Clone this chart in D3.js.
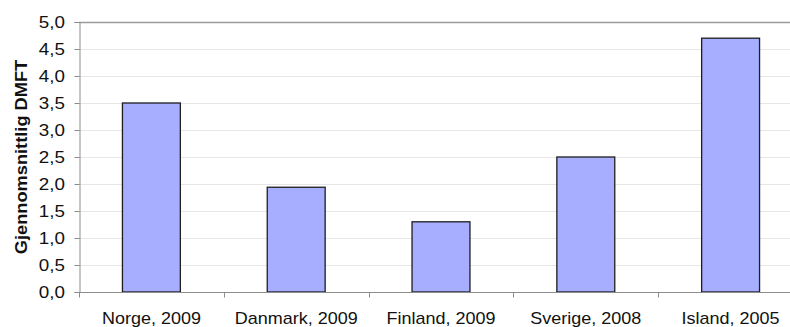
<!DOCTYPE html>
<html>
<head>
<meta charset="utf-8">
<script src="https://cdn.jsdelivr.net/npm/d3@7"></script>
<style>
  html, body { margin: 0; padding: 0; background: #fff; overflow: hidden; }
  svg { display: block; font-family: "Liberation Sans", Arial, sans-serif; }
</style>
</head>
<body>
<svg id="chart" width="790" height="327"></svg>
<script>
// Average DMFT per country and survey year
const categories = ["Norge, 2009", "Danmark, 2009", "Finland, 2009", "Sverige, 2008", "Island, 2005"];
const values = [3.5, 1.94, 1.3, 2.5, 4.7];
const yTicks = [0, 0.5, 1, 1.5, 2, 2.5, 3, 3.5, 4, 4.5, 5];
const yTitle = "Gjennomsnittlig DMFT";

const svg = d3.select("#chart");
const margin = { left: 79, top: 22, right: -13, bottom: 35 };
const W = 790, H = 327;
const x0 = margin.left, x1 = W - margin.right;
const y0 = H - margin.bottom, y1 = margin.top;
const stretch = 1.14; // wide-set lettering

const x = d3.scaleBand().domain(categories).range([x0, x1]).paddingInner(0).paddingOuter(0);
const y = d3.scaleLinear().domain([0, 5]).range([y0, y1]);

const fmt = d => d3.format(".1f")(d).replace(".", ",");

// horizontal gridlines
svg.append("g").selectAll("line")
  .data(yTicks.filter(t => t > 0 && t < 5))
  .join("line")
  .attr("x1", x0).attr("x2", x1)
  .attr("y1", d => Math.round(y(d)) + 0.5).attr("y2", d => Math.round(y(d)) + 0.5)
  .attr("stroke", "#e6e6e6").attr("stroke-width", 1);

// top border of plot area
svg.append("line")
  .attr("x1", x0).attr("x2", x1)
  .attr("y1", Math.round(y(5)) + 0.5).attr("y2", Math.round(y(5)) + 0.5)
  .attr("stroke", "#9a9a9a").attr("stroke-width", 1.5);

// bars
const barW = x.bandwidth() * 0.4;
svg.append("g").selectAll("rect")
  .data(categories.map((c, i) => ({ c, v: values[i] })))
  .join("rect")
  .attr("x", d => x(d.c) + (x.bandwidth() - barW) / 2)
  .attr("width", barW)
  .attr("y", d => y(d.v))
  .attr("height", d => y(0) - y(d.v))
  .attr("fill", "#a7aeff")
  .attr("stroke", "#1e1e1e")
  .attr("stroke-width", 1.3);

// y axis
const tickPad = 9.5;
const yAxis = d3.axisLeft(y).tickValues(yTicks).tickFormat(fmt).tickSize(5).tickPadding(tickPad);
const gy = svg.append("g").attr("transform", `translate(${x0 + 0.5},0)`).call(yAxis);
gy.select(".domain").attr("stroke", "#8c8c8c");
gy.selectAll(".tick line").attr("stroke", "#8c8c8c");
gy.selectAll(".tick text")
  .attr("font-size", 16.5).attr("fill", "#111")
  .attr("font-family", "Liberation Sans, Arial, sans-serif")
  .attr("x", -(5 + tickPad) / stretch)
  .attr("transform", `scale(${stretch},1)`);

// x axis with ticks at category boundaries
const gx = svg.append("g").attr("transform", `translate(0,${Math.round(y0) + 0.5})`);
gx.append("line").attr("x1", x0).attr("x2", x1).attr("stroke", "#8c8c8c");
const bounds = categories.map(c => x(c)).concat([x1]);
gx.selectAll("line.tk").data(bounds).join("line").attr("class", "tk")
  .attr("x1", d => Math.round(d) + 0.5).attr("x2", d => Math.round(d) + 0.5)
  .attr("y1", 0).attr("y2", 5).attr("stroke", "#8c8c8c");
gx.selectAll("text").data(categories).join("text")
  .attr("transform", d => `translate(${x(d) + x.bandwidth() / 2},31) scale(1.125,1)`)
  .attr("text-anchor", "middle")
  .attr("font-size", 16).attr("fill", "#111")
  .text(d => d);

// y title
svg.append("text")
  .attr("transform", `translate(27,${(y0 + y1) / 2}) rotate(-90) scale(${stretch},1)`)
  .attr("text-anchor", "middle")
  .attr("font-size", 16).attr("font-weight", "bold").attr("fill", "#111")
  .text(yTitle);
</script>
</body>
</html>
